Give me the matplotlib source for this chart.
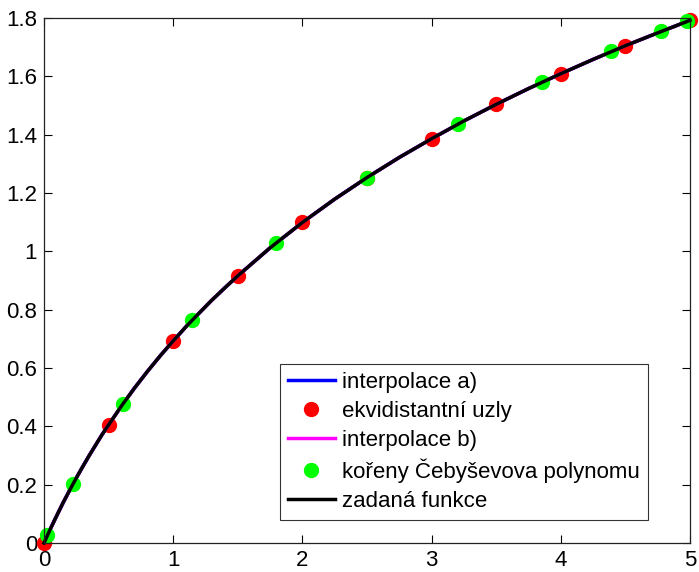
import matplotlib
matplotlib.use("Agg")
import matplotlib.pyplot as plt

plt.rcParams['font.family'] = ['Liberation Sans', 'DejaVu Sans']

fx = [0, 0.05, 0.1, 0.15, 0.2, 0.25, 0.3, 0.35, 0.4, 0.45, 0.5, 0.6, 0.7, 0.8, 0.9,
      1.0, 1.1, 1.2, 1.3, 1.4, 1.5, 1.75, 2.0, 2.25, 2.5, 2.75,
      3.0, 3.25, 3.5, 3.75, 4.0, 4.25, 4.5, 4.75, 5.0]
fy = [0, 0.049, 0.095, 0.140, 0.182, 0.223, 0.262, 0.300, 0.336, 0.372, 0.405, 0.470,
      0.531, 0.588, 0.642, 0.693, 0.742, 0.788, 0.833, 0.875, 0.916, 1.012,
      1.099, 1.179, 1.253, 1.322, 1.386, 1.447, 1.504, 1.558, 1.609, 1.658, 1.705, 1.749, 1.792]

# equidistant nodes
ex = [0, 0.5, 1.0, 1.5, 2.0, 2.5, 3.0, 3.5, 4.0, 4.5, 5.0]
ey = [0, 0.405, 0.693, 0.916, 1.099, 1.253, 1.386, 1.504, 1.609, 1.705, 1.792]

# Chebyshev roots
cx = [0.026, 0.226, 0.611, 1.149, 1.796, 2.5, 3.204, 3.851, 4.389, 4.774, 4.974]
cy = [0.026, 0.204, 0.476, 0.766, 1.030, 1.253, 1.438, 1.581, 1.686, 1.755, 1.789]

xticks = [0, 1, 2, 3, 4, 5]
yticks = [0, 0.2, 0.4, 0.6, 0.8, 1.0, 1.2, 1.4, 1.6, 1.8]
ytick_labels = ['0', '0.2', '0.4', '0.6', '0.8', '1', '1.2', '1.4', '1.6', '1.8']

fig = plt.figure(figsize=(6.99, 5.72), dpi=100)
ax = fig.add_axes([44/699, 1 - 543/572, (690-44)/699, (543-18)/572])

LW = 2.5
MS = 10
ax.plot(fx, fy, color='blue', lw=LW, label='interpolace a)')
ax.plot(ex, ey, 'o', color='red', ms=MS, mec='red', label='ekvidistantní uzly', clip_on=False)
ax.plot(fx, fy, color='magenta', lw=LW, label='interpolace b)')
ax.plot(cx, cy, 'o', color='#00ff00', ms=MS, mec='#00ff00', label='kořeny Čebyševova polynomu', clip_on=False)
ax.plot(fx, fy, color='black', lw=LW, label='zadaná funkce', clip_on=False)

ax.set_xlim(0, 5)
ax.set_ylim(0, 1.8)
ax.set_xticks(xticks)
ax.set_xticklabels([str(t) for t in xticks])
ax.set_yticks(yticks)
ax.set_yticklabels(ytick_labels)
ax.tick_params(direction='in', top=True, right=True, labelsize=16, length=6, width=0.8, pad=5)
for s in ax.spines.values():
    s.set_linewidth(0.9)
    s.set_color('#222222')

leg = ax.legend(loc='lower right', bbox_to_anchor=(648/699, 1 - 520/572), bbox_transform=fig.transFigure,
                fontsize=16, frameon=True, fancybox=False, edgecolor='black',
                handlelength=2.1, handletextpad=0.35, labelspacing=0.36, borderpad=0.35,
                borderaxespad=0)
leg.get_frame().set_linewidth(0.8)

fig.savefig('out.png', dpi=100)
